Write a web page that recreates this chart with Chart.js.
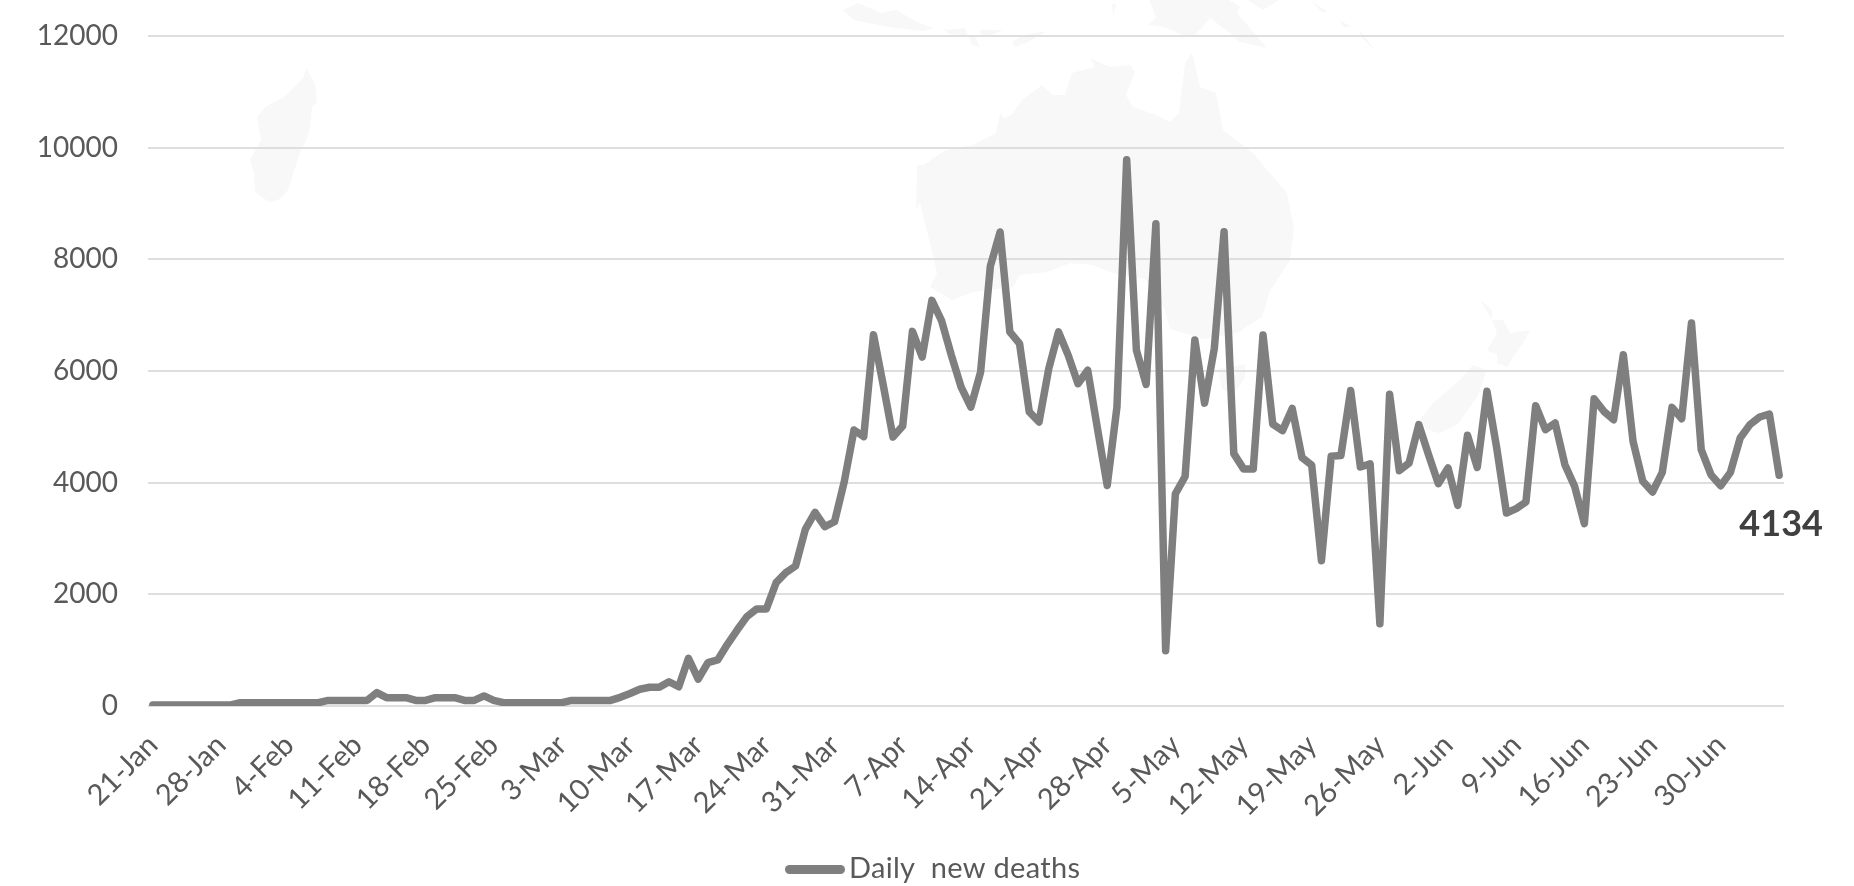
<!DOCTYPE html>
<html>
<head>
<meta charset="utf-8">
<title>Daily new deaths</title>
<style>
  html, body { margin: 0; padding: 0; background: #fff; overflow: hidden; }
  #stage { position: relative; width: 1854px; height: 886px; }
  #map, #chart { position: absolute; left: 0; top: 0; }
</style>
<script src="https://cdn.jsdelivr.net/npm/chart.js@4"></script>
</head>
<body>
<div id="stage">
  <!-- pale world-map watermark behind the plot -->
  <svg id="map" width="1854" height="886" viewBox="0 0 1854 886" fill="#f8f8f8">
    <path d="M306 68L315 83L317 103L312 107L309 133L300 153L288 190L280 199L269 202L255 192L254 173L250 160L261 140L257 117L265 107L284 97L303 78Z"/>
    <path d="M917 165L923 165L946 150L973 145L996 133L1000 113L1004 118L1011 115L1022 100L1042 85L1053 95L1065 95L1072 73L1095 67L1090 58L1110 67L1130 65L1135 72L1126 95L1133 107L1156 115L1170 122L1179 113L1185 63L1192 53L1200 87L1216 93L1223 130L1253 153L1267 170L1287 193L1294 229L1290 260L1270 291L1262 317L1237 333L1203 339L1170 329L1165 310L1145 279L1113 273L1093 265L1070 263L1047 272L1020 275L1013 287L990 290L973 292L952 300L930 287L937 273L930 243L920 203L916 210L917 163Z"/>
    <path d="M1218 369L1245 364L1245 378L1233 395L1222 389Z"/>
    <path d="M1420 420L1433 403L1460 380L1473 365L1487 370L1477 397L1457 425L1440 433L1427 430Z"/>
    <path d="M1480 300L1492 310L1492 320L1503 320L1510 333L1530 330L1523 343L1513 357L1507 367L1497 363L1497 355L1487 350L1497 333L1492 320Z"/>
    <path d="M831 0L843 10L858 3L881 13L896 10L919 23L934 28L923 31L889 27L854 20L843 10Z"/>
    <path d="M942 28L948 30L965 28L968 36L950 34Z"/>
    <path d="M980 30L1003 30L992 35L981 35Z"/>
    <path d="M969 37L975 37L980 47L972 45Z"/>
    <path d="M1041 32L1045 32L1028 42L1015 47L1012 42L1022 36Z"/>
    <path d="M1112 4L1116 4L1113 16Z"/>
    <path d="M1149 0L1156 17L1149 25L1164 27L1183 35L1195 35L1210 18L1229 32L1240 42L1267 48L1260 40L1237 13L1240 7L1229 0Z"/>
    <path d="M1248 0L1279 0L1263 10Z"/>
    <path d="M1310 0L1328 12L1322 12Z"/>
    <path d="M1340 20L1351 27L1343 27Z"/>
    <path d="M1359 30L1377 52L1362 38Z"/>
  </svg>
  <canvas id="chart" width="1854" height="886"></canvas>
</div>
<script>
// Worldwide daily new deaths, one value per day starting 21 January.
const seriesName = "Daily  new deaths";
const startDate = Date.UTC(2020, 0, 21);
const monthNames = ["Jan","Feb","Mar","Apr","May","Jun","Jul"];
const labelEvery = 7;
const yMax = 12000;
const yStep = 2000;

const earlyDeaths = [
  20,20,20,20,20,20,20,20,20,60,60,60,60,60,60,60,60,60,100,100,
  100,100,100,240,150,150,150,100,100,150,150,150,100,100,180,100,60,60,60,60,
  60,60,60,100,100,100,100
];
const riseDeaths = [
  100,155,225,300,335,335,435,345,855,480,776,825,1105,1360,1600,1737,1737,2208,2388,2507,
  3164,3468,3212,3300,4018,4943,4824
];
const peakDeaths = [
  6650,5750,4818,5015,6710,6250,7265,6896,6280,5713,5355,5982,7875,8490,6700,6490,5266,5087,6042,6700,
  6280,5773,6012,4967,3950,5355,9785,6370,5761,8639,990,3800,4110,6555,5425,6405,8494,4520,4247,4247
];
const plateauDeaths = [
  6645,5048,4932,5330,4452,4315,2603,4473,4487,5651,4281,4336,1473,5583,4215,4352,5039,4500,3982,4263,
  3594,4848,4275,5636,4621,3457,3534,3654,5379,4949,5069,4322,3934,3266,5504,5278,5128,6292,4740,4024,
  3833,4185,5349,5146,6860,4591,4143,3946,4185,4800,5039,5176,5230,4134
];
const dailyDeaths = [...earlyDeaths, ...riseDeaths, ...peakDeaths, ...plateauDeaths];

const categories = dailyDeaths.map((_, i) => {
  const d = new Date(startDate + i * 86400000);
  return d.getUTCDate() + "-" + monthNames[d.getUTCMonth()];
});

const fontFamily = "Lato, 'Open Sans', sans-serif";
const textColor = "#595959";
const lineColor = "#7f7f7f";

// Bold figure beneath the last point of the line.
const endLabel = {
  id: "endLabel",
  afterDatasetsDraw(chart) {
    const pts = chart.getDatasetMeta(0).data;
    const last = pts[pts.length - 1];
    const ctx = chart.ctx;
    ctx.save();
    ctx.font = "bold 36px " + fontFamily;
    ctx.fillStyle = "#404040";
    ctx.textAlign = "center";
    ctx.textBaseline = "middle";
    ctx.fillText(String(dailyDeaths[dailyDeaths.length - 1]), last.x + 2, last.y + 49);
    ctx.restore();
  }
};

// Series key: a rounded bar with the name close beside it.
const seriesKey = {
  id: "seriesKey",
  afterDraw(chart) {
    const ctx = chart.ctx;
    ctx.save();
    ctx.fillStyle = lineColor;
    ctx.beginPath();
    ctx.roundRect(785, 865, 60, 9, 4.5);
    ctx.fill();
    ctx.font = "29px " + fontFamily;
    ctx.letterSpacing = "0.3px";
    ctx.fillStyle = textColor;
    ctx.textAlign = "left";
    ctx.textBaseline = "middle";
    ctx.fillText(chart.data.datasets[0].label, 849, 869);
    ctx.restore();
  }
};

new Chart(document.getElementById("chart"), {
  type: "line",
  data: {
    labels: categories,
    datasets: [{
      label: seriesName,
      data: dailyDeaths,
      borderColor: lineColor,
      backgroundColor: lineColor,
      borderWidth: 7.5,
      borderCapStyle: "round",
      borderJoinStyle: "round",
      pointRadius: 0,
      tension: 0,
      fill: false
    }]
  },
  options: {
    responsive: false,
    animation: false,
    layout: { padding: { top: 36, right: 70, left: 0, bottom: 0 } },
    plugins: {
      legend: { display: false },
      title: { display: false },
      tooltip: { enabled: false }
    },
    scales: {
      x: {
        offset: true,
        afterFit(scale) { scale.height = 180; },
        grid: { display: false },
        border: { display: false },
        ticks: {
          autoSkip: false,
          maxRotation: 45,
          minRotation: 45,
          padding: 14,
          color: textColor,
          font: { family: fontFamily, size: 29 },
          callback(value, index) {
            return index % labelEvery === 0 ? this.getLabelForValue(value) : "";
          }
        }
      },
      y: {
        min: 0,
        max: yMax,
        afterFit(scale) {
          scale.width = 148;
          scale.paddingTop = 0;
          scale.paddingBottom = 0;
        },
        border: { display: false },
        grid: { color: "#dedede", lineWidth: 2, drawTicks: false },
        ticks: {
          stepSize: yStep,
          padding: 30,
          color: textColor,
          font: { family: fontFamily, size: 28 },
          callback(value) { return String(value); }
        }
      }
    }
  },
  plugins: [endLabel, seriesKey]
});
</script>
</body>
</html>
